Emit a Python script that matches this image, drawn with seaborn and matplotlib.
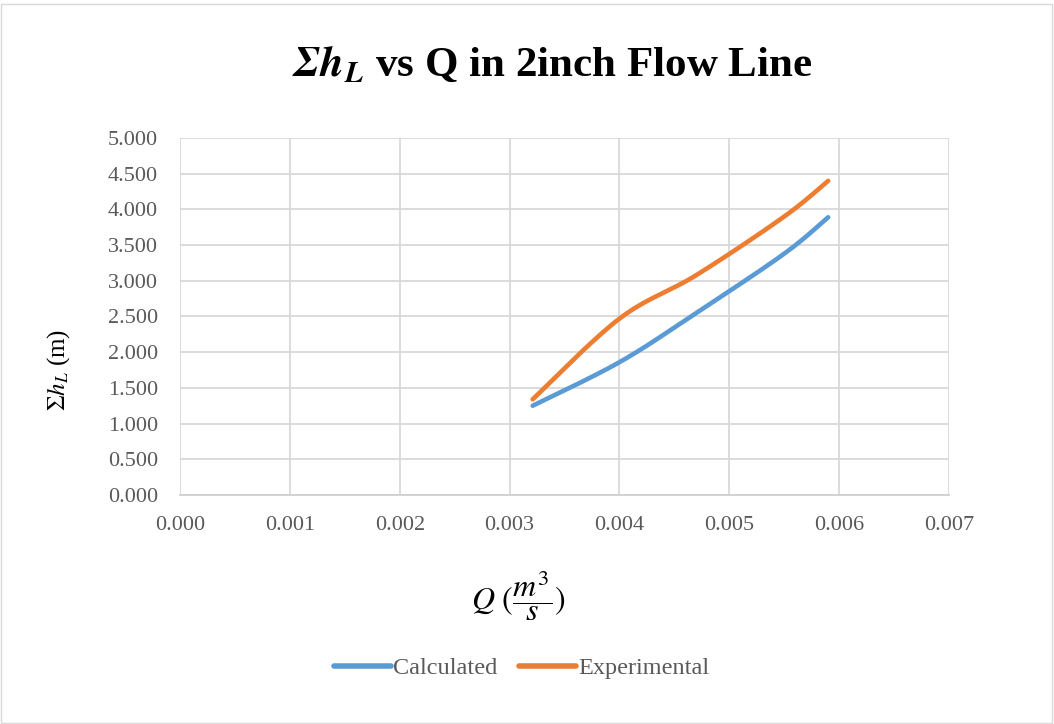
import numpy as np
import pandas as pd
import matplotlib
matplotlib.use("Agg")
import matplotlib.pyplot as plt
import seaborn as sns
from matplotlib.patches import Rectangle

# ---- data ----
q_calc = [0.00321, 0.0040, 0.0047, 0.0055, 0.0059]
h_calc = [1.25, 1.86, 2.55, 3.38, 3.89]
q_exp = [0.00321, 0.0040, 0.0047, 0.0055, 0.0059]
h_exp = [1.34, 2.47, 3.08, 3.90, 4.40]
series_names = ["Calculated", "Experimental"]
colors = ["#5B9BD5", "#ED7D31"]
x_ticks = [0.000, 0.001, 0.002, 0.003, 0.004, 0.005, 0.006, 0.007]
y_ticks = [0.0, 0.5, 1.0, 1.5, 2.0, 2.5, 3.0, 3.5, 4.0, 4.5, 5.0]


def smooth(x, y, n=40):
    """Excel-style smoothed line (Catmull-Rom Bezier) through the points."""
    x = np.asarray(x, float); y = np.asarray(y, float)
    P = np.column_stack([x, y])
    out = []
    for i in range(len(P) - 1):
        p0 = P[i - 1] if i > 0 else P[i]
        p1, p2 = P[i], P[i + 1]
        p3 = P[i + 2] if i + 2 < len(P) else P[i + 1]
        c1 = p1 + (p2 - p0) / 6.0
        c2 = p2 - (p3 - p1) / 6.0
        t = np.linspace(0, 1, n)[:, None]
        seg = ((1 - t) ** 3) * p1 + 3 * ((1 - t) ** 2) * t * c1 + 3 * (1 - t) * t ** 2 * c2 + t ** 3 * p2
        out.append(seg if i == 0 else seg[1:])
    S = np.vstack(out)
    return S[:, 0], S[:, 1]


frames = []
for name, qx, hy in [(series_names[0], q_calc, h_calc), (series_names[1], q_exp, h_exp)]:
    sx, sy = smooth(qx, hy)
    frames.append(pd.DataFrame({"Q": sx, "h": sy, "series": name, "order": np.arange(len(sx))}))
df = pd.concat(frames, ignore_index=True)

sns.set_theme(style="white")
plt.rcParams["font.family"] = ["Liberation Serif", "DejaVu Serif"]
plt.rcParams["mathtext.fontset"] = "stix"

fig = plt.figure(figsize=(10.54, 7.24), dpi=100)
ax = fig.add_axes([0.1708, 0.3163, 0.7296, 0.4931])

sns.lineplot(data=df, x="Q", y="h", hue="series", palette=colors, sort=False,
             estimator=None, units="series", linewidth=3.3, ax=ax,
             solid_capstyle="round", legend=True)

ax.set_xlim(0, 0.007)
ax.set_ylim(0, 5)
ax.set_xticks(x_ticks)
ax.set_yticks(y_ticks)
ax.set_xticklabels([f"{v:.3f}" for v in x_ticks])
ax.set_yticklabels([f"{v:.3f}" for v in y_ticks])
ax.tick_params(axis="both", labelsize=16, colors="#595959", length=0)
ax.tick_params(axis="x", pad=15)
ax.tick_params(axis="y", pad=16)
ax.grid(True, color="#D9D9D9", linewidth=1.3)
ax.set_axisbelow(True)
for s in ["top", "right", "left"]:
    ax.spines[s].set_visible(False)
ax.spines["bottom"].set_color("#D0D0D0")
ax.spines["bottom"].set_linewidth(1.3)
ax.set_xlabel("")
ax.set_ylabel("")

fig.text(0.492, 1 - 596 / 724, r"$Q\ (\dfrac{m^3}{s})$", ha="center", va="center",
         fontsize=23, color="#000000")
fig.text(0.056, 1 - 370 / 724, r"$\Sigma h_L$ (m)", ha="center", va="center",
         rotation=90, fontsize=18, color="#000000")

fig.text(0.524, 1 - 65 / 724, r"$\mathbfit{\Sigma h_L}$ vs Q in 2inch Flow Line", ha="center", va="center",
         fontsize=31, fontweight="bold", color="#000000")

leg = ax.legend(loc="center", bbox_to_anchor=(0.4948, 1 - 668 / 724), bbox_transform=fig.transFigure,
                ncol=2, frameon=False, fontsize=17.5, handlelength=2.35, handletextpad=0.08,
                columnspacing=0.9)
for t in leg.get_texts():
    t.set_color("#595959")
for line in leg.get_lines():
    line.set_linewidth(4)

fig.patches.append(Rectangle((0.001, 0.002), 0.997, 0.993, transform=fig.transFigure,
                             fill=False, edgecolor="#D9D9D9", linewidth=1))

fig.savefig("out.png", dpi=100)
